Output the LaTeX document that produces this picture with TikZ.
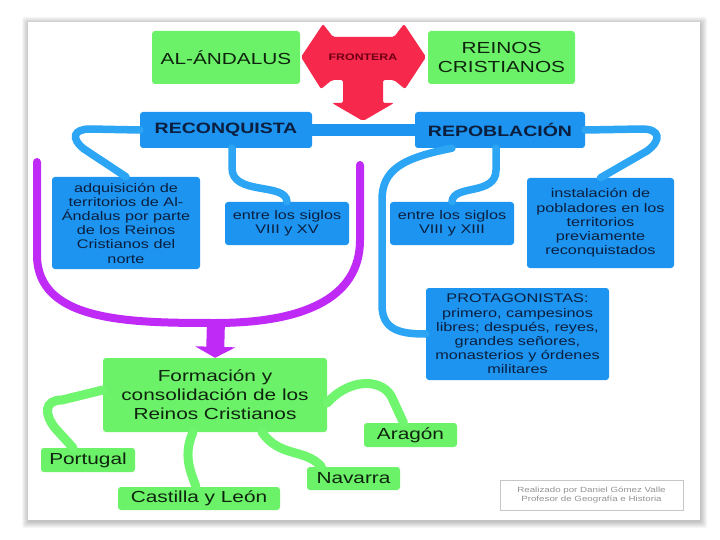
\documentclass[tikz,border=0pt]{standalone}
\usepackage{fontspec}
\setmainfont[FakeStretch=1.3]{Liberation Sans}
\usetikzlibrary{arrows.meta}
\definecolor{boxgreen}{RGB}{108,242,104}
\definecolor{linegreen}{RGB}{112,246,110}
\definecolor{boxblue}{RGB}{28,148,240}
\definecolor{lineblue}{RGB}{45,165,245}
\definecolor{textblue}{RGB}{12,30,62}
\definecolor{textgreen}{RGB}{14,36,14}
\definecolor{frontred}{RGB}{246,40,76}
\definecolor{frontdark}{RGB}{110,0,20}
\definecolor{umagenta}{RGB}{192,42,246}

\begin{document}
\begin{tikzpicture}[x=1pt,y=-1pt,
    box/.style={rectangle, rounded corners=3pt, inner sep=0pt, align=center},
    greenbox/.style={box, fill=boxgreen, text=textgreen},
    bluebox/.style={box, fill=boxblue, text=textblue,
        font=\fontsize{12.5}{14.2}\selectfont},
    bigfont/.style={font=\fontsize{16}{19}\selectfont},
    blueline/.style={draw=lineblue, line width=7.5pt, line cap=round},
    greenline/.style={draw=linegreen, line width=9pt, line cap=round},
    magline/.style={draw=umagenta, line width=8pt, line cap=round}]
\useasboundingbox (0,0) rectangle (720,540);
\fill[white] (0,0) rectangle (720,540);

\foreach \i in {1,...,7}
    \fill[black, opacity=0.035, rounded corners=2pt]
        (28-\i+1,22-\i+2) rectangle (700+\i,520+\i+1);
\fill[white] (28,22) rectangle (700,520);

\node[greenbox, bigfont, minimum width=148pt, minimum height=53pt]
    (alandalus) at (226,57.5) {AL-ÁNDALUS};
\node[greenbox, bigfont, minimum width=147pt, minimum height=53pt]
    (reinos) at (501.5,57.5) {REINOS\\CRISTIANOS};

\fill[frontred, rounded corners=2pt] (301,57) -- (323,24) -- (333,37) -- (394,37)
    -- (404,24) -- (426,57) -- (405,89) -- (394,80) -- (383,80) -- (383,103)
    -- (394,103) -- (363,121) -- (332,103) -- (343,103) -- (343,80) -- (332,80)
    -- (321,89) -- cycle;
\node[text=frontdark, font=\bfseries\fontsize{9.5}{10}\selectfont]
    (frontera) at (363,57) {FRONTERA};

\node[bluebox, font=\bfseries\fontsize{15}{17}\selectfont,
    minimum width=172pt, minimum height=36pt] (reconquista) at (226,130) {RECONQUISTA};
\node[bluebox, font=\bfseries\fontsize{15}{17}\selectfont,
    minimum width=170pt, minimum height=36pt] (repoblacion) at (500,130) {REPOBLACIÓN};
\draw[draw=boxblue, line width=12pt] (reconquista.east) -- (repoblacion.west);

\node[bluebox, minimum width=148pt, minimum height=92pt] (adquisicion) at (126,223)
    {adquisición de\\territorios de Al-\\Ándalus por parte\\de los Reinos\\Cristianos del\\norte};
\node[bluebox, minimum width=124pt, minimum height=43pt] (siglosxv) at (287,223.5)
    {entre los siglos\\VIII y XV};
\node[bluebox, minimum width=124pt, minimum height=43pt] (siglosxiii) at (452,223.5)
    {entre los siglos\\VIII y XIII};
\node[bluebox, minimum width=147pt, minimum height=90pt] (instalacion) at (600.5,223)
    {instalación de\\pobladores en los\\territorios\\previamente\\reconquistados};
\node[bluebox, minimum width=183pt, minimum height=92pt] (protagonistas) at (517.5,334)
    {PROTAGONISTAS:\\primero, campesinos\\libres; después, reyes,\\grandes señores,\\monasterios y órdenes\\militares};

\draw[blueline] (reconquista.west) -- (90,129) .. controls (74,129) and (70,138) .. (84,149)
    -- (adquisicion.north);
\draw[blueline] ([xshift=6pt]reconquista.south) -- (232,168)
    .. controls (232,196) and (286,182) .. (siglosxv.north);
\draw[blueline] ([xshift=-48pt]repoblacion.south) .. controls (402,158) and (382,170) .. (382,200)
    -- (382,305) .. controls (382,330) and (400,334) .. (protagonistas.west);
\draw[blueline] ([xshift=-4pt]repoblacion.south) -- (496,170)
    .. controls (496,196) and (453,184) .. (siglosxiii.north);
\draw[blueline] (repoblacion.east) -- (642,129) .. controls (660,129) and (662,140) .. (647,151)
    -- (instalacion.north);

\node[greenbox, bigfont, minimum width=224pt, minimum height=74pt] (formacion) at (215,395)
    {Formación y\\consolidación de los\\Reinos Cristianos};
\node[greenbox, bigfont, minimum width=93pt, minimum height=24pt] (aragon) at (410.5,435) {Aragón};
\node[greenbox, bigfont, minimum width=94pt, minimum height=24pt] (portugal) at (88,460) {Portugal};
\node[greenbox, bigfont, minimum width=93pt, minimum height=23pt] (navarra) at (353.5,478.5) {Navarra};
\node[greenbox, bigfont, minimum width=162pt, minimum height=23pt] (castilla) at (199,498.5)
    {Castilla y León};

\draw[magline] (37,162) -- (37,255) .. controls (37,322) and (130,323) .. (215,323)
    .. controls (300,323) and (360,300) .. (360,240) -- (360,165);
\draw[draw=umagenta, line width=18pt, -{Triangle[width=40pt,length=11pt]}]
    (216,320) -- (formacion.north);

\draw[greenline] ([yshift=5pt]formacion.west) -- (62,400) .. controls (44,400) and (44,414) .. (55,428)
    -- ([xshift=-15pt]portugal.north);
\draw[greenline] ([xshift=-22pt]formacion.south) .. controls (183,455) and (190,470) .. ([xshift=-3pt]castilla.north);
\draw[greenline] ([xshift=47pt]formacion.south) .. controls (280,458) and (305,448) .. ([xshift=-32pt]navarra.north);
\draw[greenline] ([yshift=-8pt]formacion.east) .. controls (350,377) and (385,378) .. (393,400)
    -- ([xshift=-7pt]aragon.north);

\node[rectangle, draw=gray!45, fill=white, text=gray!85, align=center,
    font=\fontsize{7.5}{8.5}\selectfont, minimum width=183pt, minimum height=30pt]
    (credito) at (591.5,495) {Realizado por Daniel Gómez Valle\\Profesor de Geografía e Historia};
\end{tikzpicture}
\end{document}
